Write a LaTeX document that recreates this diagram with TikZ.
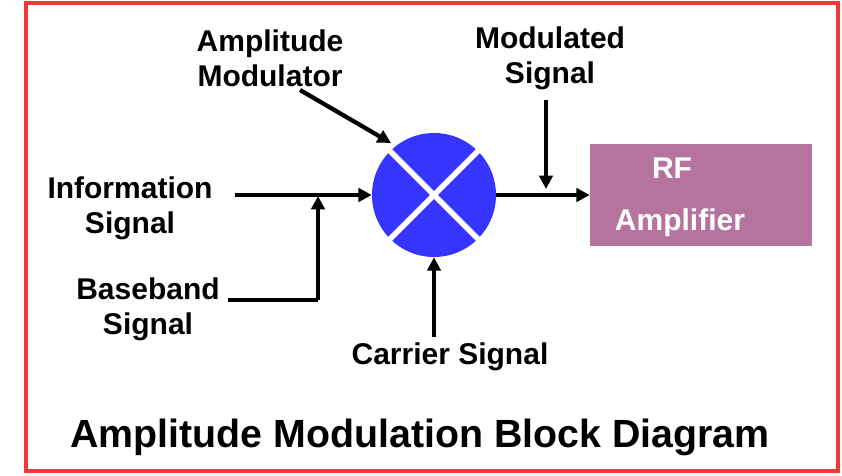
\documentclass[tikz,border=0pt]{standalone}
\usepackage{fontspec}
\setmainfont{Liberation Sans}
\usetikzlibrary{arrows.meta,calc}
\definecolor{mblue}{HTML}{3535FF}
\definecolor{rfpink}{HTML}{B5739D}
\definecolor{bred}{HTML}{F03838}
\begin{document}
\begin{tikzpicture}[x=0.75pt,y=-0.75pt,
  lbl/.style={font=\bfseries\fontsize{22.5}{26}\selectfont,align=center,inner sep=0},
  arr/.style={line width=3.2pt,-{Triangle[length=10pt,width=10pt]}},
  ln/.style={line width=3.2pt}]
\useasboundingbox (0,0) rectangle (842,475);
\draw[bred,line width=2.5pt] (26,3) rectangle (838,471);
\node[circle,fill=mblue,minimum size=124*0.75pt,inner sep=0] (m) at (434,195) {};
\draw[white,line width=4pt] ($(m.center)+(-44,-44)$) -- ($(m.center)+(44,44)$);
\draw[white,line width=4pt] ($(m.center)+(44,-44)$) -- ($(m.center)+(-44,44)$);
\node[fill=rfpink,minimum width=222*0.75pt,minimum height=102*0.75pt,inner sep=0] (rf) at (701,195) {};
\node[lbl,white] (rft) at (672,168) {RF};
\node[lbl,white] (rfa) at (680,223) {Amplifier};
\node[lbl] (am) at (270,58) {Amplitude\\Modulator};
\node[lbl] (ms) at (550,58) {Modulated\\Signal};
\node[lbl] (is) at (130,208) {Information\\Signal};
\node[lbl] (bs) at (148,309) {Baseband\\Signal};
\node[lbl] (cs) at (450,357) {Carrier Signal};
\node[font=\bfseries\fontsize{29.5}{34}\selectfont,inner sep=0] (t) at (420,437) {Amplitude Modulation Block Diagram};
\coordinate (i0) at (235,195);
\coordinate (b0) at (228,300);
\coordinate (b1) at (318,300);
\coordinate (b2) at (318,196);
\coordinate (a0) at (300,90);
\coordinate (a1) at (391,143);
\coordinate (s0) at (546,100);
\coordinate (s1) at (546,189);
\coordinate (c0) at (434,337);
\draw[arr] (i0) -- (m.west);
\draw[ln] (b0) -- (b1);
\draw[arr] (b1) -- (b2);
\draw[arr] (a0) -- (a1);
\draw[arr] (s0) -- (s1);
\draw[arr] (m.east) -- (rf.west);
\draw[arr] (c0) -- (m.south);
\end{tikzpicture}
\end{document}
